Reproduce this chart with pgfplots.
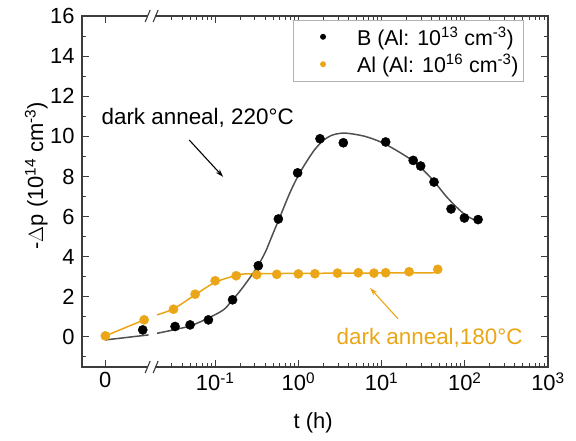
\documentclass[border=0pt]{standalone}
\usepackage{pgfplots}
\pgfplotsset{compat=1.18}
\usepackage{pgfplotstable}
\usetikzlibrary{arrows.meta}
\usepackage{fontspec}
\setmainfont{Liberation Sans}

\definecolor{aluorange}{RGB}{234,166,22}
\definecolor{fitgray}{RGB}{80,80,80}
\definecolor{axgray}{RGB}{60,60,60}

% x axis is broken: 0 sits at -2.32 on a linear stub, the rest is log10(t)
% B sample, log part (t in h)
\pgfplotstableread{
t      dp
0.033  0.52
0.050  0.60
0.083  0.85
0.162  1.85
0.330  3.55
0.575  5.88
0.980  8.18
1.82   9.88
3.47   9.68
11.2   9.72
24.0   8.80
29.5   8.52
42.7   7.72
68.4   6.38
98.9   5.93
144.5  5.85
}\bdata

% Al sample, log part
\pgfplotstableread{
t      dp
0.0316 1.38
0.0575 2.13
0.100  2.80
0.179  3.05
0.316  3.10
0.550  3.12
1.00   3.14
1.58   3.15
2.95   3.18
5.25   3.20
8.10   3.18
11.2   3.20
21.4   3.25
47.3   3.37
}\aldata

% fitted curve of B, log part
\pgfplotstableread{
t      dp
0.0200 0.18
0.0316 0.35
0.0501 0.55
0.0794 0.90
0.126  1.35
0.158  1.80
0.200  2.30
0.251  2.85
0.316  3.45
0.398  4.20
0.501  5.20
0.631  6.20
0.794  7.20
1.00   8.05
1.26   8.75
1.58   9.35
2.00   9.80
2.51   10.05
3.16   10.15
3.98   10.15
6.31   10.00
10.0   9.70
15.8   9.25
25.1   8.70
39.8   7.90
63.1   6.90
100    6.10
144.5  5.75
}\bfit

% fitted curve of Al, log part
\pgfplotstableread{
t      dp
0.0200 1.10
0.0316 1.40
0.0575 2.10
0.100  2.72
0.178  3.05
0.316  3.15
47.3   3.20
}\alfit

\begin{document}
\begin{tikzpicture}
\begin{axis}[
    scale only axis,
    width=466bp, height=351bp,
    xmin=-2.6, xmax=3,
    ymin=-1.5, ymax=16,
    clip=false,
    font=\fontsize{22}{26}\selectfont,
    /pgf/number format/assume math mode=true,
    axis line style={axgray, line width=1.1bp},
    every tick/.style={axgray, line width=1bp},
    tick align=inside,
    major tick length=7bp, minor tick length=4bp,
    xtick={-2.32,-1,0,1,2,3},
    xticklabels={0, 10\textsuperscript{-1}, 10\textsuperscript{0}, 10\textsuperscript{1}, 10\textsuperscript{2}, 10\textsuperscript{3}},
    minor xtick={-1.5229,-1.3979,-1.3010,-1.2218,-1.1549,-1.0969,-1.0458,
                 -0.6990,-0.5229,-0.3979,-0.3010,-0.2218,-0.1549,-0.0969,-0.0458,
                 0.3010,0.4771,0.6021,0.6990,0.7782,0.8451,0.9031,0.9542,
                 1.3010,1.4771,1.6021,1.6990,1.7782,1.8451,1.9031,1.9542,
                 2.3010,2.4771,2.6021,2.6990,2.7782,2.8451,2.9031,2.9542},
    ytick={0,2,...,16},
    minor ytick={-1,1,...,15},
    xticklabel style={yshift=-2bp},
    yticklabel style={xshift=-4bp},
    xlabel={t (h)},
    xlabel style={at={(axis description cs:0.496,-0.16)}, anchor=center},
    ylabel={-$\Delta$p (10\textsuperscript{14} cm\textsuperscript{-3})},
    ylabel style={at={(axis description cs:-0.098,0.545)}, anchor=center},
    legend style={at={(0.948,0.989)}, anchor=north east,
        draw=gray!60, fill=white, font=\fontsize{21.5}{25}\selectfont,
        row sep=4bp, inner xsep=3bp, inner ysep=5bp},
    legend cell align=left,
    legend image code/.code={
        \path[#1] (27bp,0bp) circle (3bp);
        \path (0bp,0bp) (59bp,0bp);
    },
]
\addlegendimage{fill=black, draw=none}
\addlegendentry{B (Al: 10\textsuperscript{13} cm\textsuperscript{-3})}
\addlegendimage{fill=aluorange, draw=none}
\addlegendentry{Al (Al: 10\textsuperscript{16} cm\textsuperscript{-3})}

% Al: stub before the break (axis positions) and log part
\addplot[forget plot, aluorange, line width=1.5bp] coordinates {(-2.32,0.05) (-1.853,0.85)};
\addplot[forget plot, aluorange, line width=1.5bp, smooth] table[x expr={log10(\thisrow{t})}, y=dp] {\alfit};
\addplot[forget plot, only marks, mark=*, mark size=4.6bp, aluorange] coordinates {(-2.32,0.05) (-1.853,0.85)};
\addplot[forget plot, only marks, mark=*, mark size=4.6bp, aluorange] table[x expr={log10(\thisrow{t})}, y=dp] {\aldata};

% B: stub before the break and log part
\addplot[forget plot, fitgray, line width=1.5bp] coordinates {(-2.32,-0.15) (-1.80,0.10)};
\addplot[forget plot, fitgray, line width=1.5bp, smooth] table[x expr={log10(\thisrow{t})}, y=dp] {\bfit};
\addplot[forget plot, only marks, mark=*, mark size=4.6bp, black] coordinates {(-1.87,0.35)};
\addplot[forget plot, only marks, mark=*, mark size=4.6bp, black] table[x expr={log10(\thisrow{t})}, y=dp] {\bdata};

\node[font=\fontsize{22.5}{26}\selectfont] at (axis cs:-1.21,10.92) {dark anneal, 220\textdegree C};
\draw[-{Stealth[length=8bp,width=5bp]}, line width=1.1bp, black] (axis cs:-1.312,9.82) -- (axis cs:-0.904,7.98);
\node[font=\fontsize{22.5}{26}\selectfont, text=aluorange] at (axis cs:1.577,-0.05) {dark anneal,180\textdegree C};
\draw[-{Stealth[length=8bp,width=5bp]}, line width=1.1bp, aluorange] (axis cs:1.198,0.9) -- (axis cs:0.862,2.44);

\coordinate (bb) at (axis cs:-1.763,-1.5);
\coordinate (bt) at (axis cs:-1.763,16);
\end{axis}
% axis break marks
\foreach \c in {bb,bt}{
  \fill[white] ([xshift=-3.5bp,yshift=-1.5bp]\c) rectangle ([xshift=3.5bp,yshift=1.5bp]\c);
  \draw[axgray, line width=1.1bp] ([xshift=-6.5bp,yshift=-6bp]\c) -- ([xshift=-1.5bp,yshift=6bp]\c);
  \draw[axgray, line width=1.1bp] ([xshift=1.5bp,yshift=-6bp]\c) -- ([xshift=6.5bp,yshift=6bp]\c);
}
\pgfresetboundingbox
\useasboundingbox (-82bp,-74bp) rectangle (494bp,367bp);
\end{tikzpicture}
\end{document}
